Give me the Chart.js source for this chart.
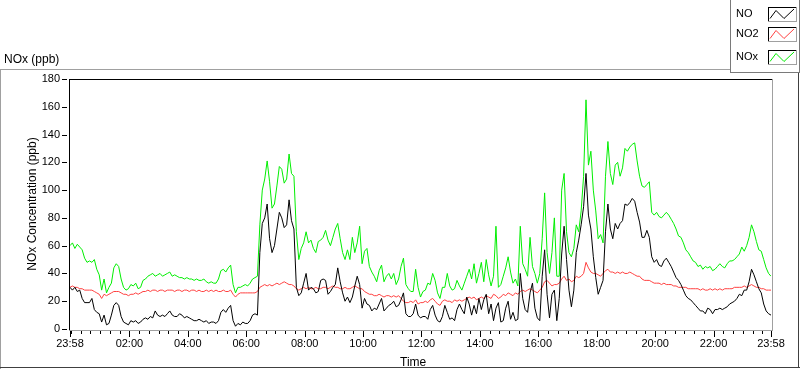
<!DOCTYPE html>
<html>
<head>
<meta charset="utf-8">
<title>NOx (ppb)</title>
<script src="https://cdn.jsdelivr.net/npm/chart.js@4.4.1/dist/chart.umd.min.js"></script>
<style>
  html, body { margin: 0; padding: 0; background: #ffffff; overflow: hidden; }
  canvas { display: block; }
</style>
</head>
<body>
<canvas id="grafico" width="800" height="369"></canvas>
<script>
// minutos desde las 23:58, una muestra cada 5 minutos
const pasoMinutos = 5
const tickMinutes = [0, 122, 242, 362, 482, 602, 722, 842, 962, 1082, 1202, 1322, 1440]
const tickLabels = ['23:58', '02:00', '04:00', '06:00', '08:00', '10:00', '12:00', '14:00', '16:00', '18:00', '20:00', '22:00', '23:58']
const yTickStep = 20

const noValues = [
  30,28,30,27,28,22,19,19,19,22,14,12,11,
  5,10,3,4,10,17,19,17,9,5,4,3,6,5,6,4,5,7,
  8,7,9,8,13,10,9,10,9,11,13,10,9,9,11,10,8,9,
  8,7,6,6,7,6,5,6,4,5,5,4,6,12,14,12,15,17,6,2,4,3,5,4,
  4,6,10,11,10,55,76,80,90,65,
  55,60,72,84,80,73,75,93,78,72,
  30,24,26,33,40,28,30,29,26,27,
  35,36,35,25,27,30,32,44,34,26,
  20,23,19,23,31,38,32,15,22,18,
  17,13,15,14,18,22,13,15,17,18,
  20,16,17,21,26,11,9,9,11,18,
  10,8,
  9,9,7,14,17,10,6,5,9,17,
  12,7,8,6,14,18,14,11,23,18,
  10,17,11,22,14,21,25,11,18,6,
  15,19,5,6,15,20,7,12,6,7,
  40,22,14,12,26,33,15,8,6,38,
  57,25,8,25,28,6,22,54,74,50,
  28,16,28,55,64,75,88,112,82,72,
  52,37,25,30,
  35,70,90,72,65,76,72,76,78,90,
  89,91,94,92,84,77,66,66,71,66,
  52,48,50,46,45,49,51,48,45,41,
  37,35,32,28,24,22,21,19,17,15,
  13,13,11,15,14,11,14,14,15,14,
  15,16,18,19,20,22,25,24,28,28,
  34,43,39,34,29,26,18,13,11,10
]

const no2Values = [
  30,31,30,30,29,29,28,28,28,28,27,26,25,
  22,25,24,25,26,27,27,27,26,25,25,24,25,25,26,25,26,27,
  27,28,27,28,28,27,28,28,27,28,28,28,27,28,28,27,28,28,
  27,28,28,27,28,27,27,28,27,28,27,28,27,27,28,27,27,28,25,23,25,26,26,26,
  26,26,26,26,27,30,31,32,31,32,
  31,32,33,32,33,34,33,32,32,31,
  29,28,29,30,29,30,29,29,30,29,
  29,30,30,29,30,31,30,30,29,29,
  30,29,29,30,31,30,29,29,27,26,
  25,25,24,24,25,24,23,24,24,23,
  24,23,24,22,20,19,19,20,19,21,
  18,19,
  19,20,19,21,22,20,18,17,20,21,
  20,20,19,21,20,21,20,21,22,23,
  22,23,21,22,23,22,24,23,22,25,
  24,22,23,25,24,26,25,24,26,25,
  27,28,27,28,29,28,27,26,28,30,
  34,35,33,31,32,32,33,36,38,35,
  36,34,35,38,37,38,40,48,44,41,
  40,40,39,38,
  40,42,43,41,41,40,41,40,41,40,
  40,41,40,39,38,38,36,35,35,35,
  34,33,33,33,32,33,32,32,32,31,
  31,30,30,30,30,29,29,29,29,29,
  28,29,28,28,29,28,29,28,29,28,
  29,29,29,29,30,30,30,30,31,30,
  31,32,31,30,30,29,29,28,28,28
]

const noxValues = [
  60,62,58,61,59,57,
  51,48,49,48,50,43,39,
  28,36,26,30,33,
  44,47,45,36,30,28,29,32,31,33,29,30,35,
  36,38,39,40,38,39,40,38,39,40,41,38,39,
  38,37,37,36,37,36,36,35,36,35,35,36,34,33,34,33,33,
  36,42,43,41,44,46,32,26,30,30,31,32,
  31,33,36,37,38,75,100,108,121,106,
  87,90,103,117,115,105,108,126,112,110,
  70,50,58,62,70,62,64,58,55,63,
  64,66,71,64,60,66,72,76,65,55,
  50,57,50,66,55,62,74,47,56,58,
  45,41,38,34,42,46,34,38,40,36,
  40,32,36,45,51,32,29,27,27,43,
  30,23,
  27,28,33,32,40,35,26,22,30,30,
  40,31,28,29,35,31,28,33,38,43,
  36,47,33,40,48,34,50,39,31,38,
  74,30,32,38,44,52,41,33,36,31,
  74,47,43,38,66,45,40,33,40,65,
  98,55,40,55,80,38,38,100,112,70,
  55,52,58,75,70,85,110,165,118,128,
  100,85,65,68,
  62,110,135,112,104,118,120,110,116,130,
  128,131,133,134,121,110,103,102,104,106,
  84,82,84,81,80,82,84,82,79,76,
  72,67,66,62,57,55,52,49,48,45,
  46,43,45,44,45,42,43,45,47,45,
  44,47,49,49,50,52,54,59,56,60,
  66,75,70,63,57,56,50,44,40,38
]

const fuente = '"Liberation Sans", Arial, sans-serif'

function aPuntos(valores) {
  return valores.map((v, i) => ({ x: i * pasoMinutos, y: v }))
}

// marco, marcas de los ejes, titulos y leyenda al estilo del grafico original
const marcoPlugin = {
  id: 'marco',
  afterDraw(chart) {
    const c = chart.ctx
    const xs = chart.scales.x
    const ys = chart.scales.y
    const a = chart.chartArea
    c.save()

    // marco exterior
    c.fillStyle = '#a0a0a0'
    c.fillRect(0, 69, 730, 1)
    c.fillRect(0, 69, 1, 300)
    c.fillStyle = '#404040'
    c.fillRect(0, 367, 800, 1)
    c.fillRect(798, 72, 1, 296)

    // borde del area de trazado
    const izq = Math.round(a.left) - 1
    const der = Math.round(a.right) + 1
    const arr = Math.round(a.top)
    const abj = Math.round(a.bottom) + 1
    c.fillStyle = '#000000'
    c.fillRect(izq, arr, der - izq, 1)
    c.fillRect(izq, arr, 1, abj - arr)
    c.fillStyle = '#a0a0a0'
    c.fillRect(izq, abj, der - izq + 1, 1)
    c.fillRect(der, arr, 1, abj - arr)

    // marcas eje x: mayores en las etiquetas, menores cada 20 minutos
    c.fillStyle = '#000000'
    tickMinutes.forEach(t => {
      const px = Math.round(xs.getPixelForValue(t))
      c.fillRect(px, abj + 1, 1, 6)
    })
    for (let m = 0; m < 1440; m += 20) {
      const t = m + 2
      if (tickMinutes.includes(t)) continue
      const px = Math.round(xs.getPixelForValue(t))
      c.fillRect(px, abj + 1, 1, 3)
    }

    // marcas eje y
    ys.ticks.forEach(tk => {
      const py = Math.round(ys.getPixelForValue(tk.value))
      c.fillRect(izq - 7, py, 5, 1)
    })

    // titulos
    c.fillStyle = '#000000'
    c.font = '12px ' + fuente
    c.textAlign = 'left'
    c.textBaseline = 'alphabetic'
    c.fillText('NOx (ppb)', 4, 63)
    c.fillText('Time', 400, 366)

    c.save()
    c.translate(33, (a.top + a.bottom) / 2)
    c.rotate(-Math.PI / 2)
    c.textAlign = 'center'
    c.textBaseline = 'middle'
    c.fillText('NOx Concentration (ppb)', 0, 0)
    c.restore()

    // leyenda
    c.fillStyle = '#ffffff'
    c.fillRect(730, 0, 70, 73)
    c.fillStyle = '#7a7a7a'
    c.fillRect(730, 0, 1, 73)
    c.fillRect(730, 72, 70, 1)
    c.fillRect(799, 0, 1, 73)

    const filas = [7, 27, 50]
    const centros = [14, 34, 57]
    chart.data.datasets.forEach((ds, i) => {
      const y0 = filas[i]
      c.fillStyle = '#000000'
      c.font = '11px ' + fuente
      c.textAlign = 'left'
      c.textBaseline = 'middle'
      c.fillText(ds.label, 736, centros[i])

      c.fillStyle = '#000000'
      c.fillRect(768, y0, 28, 1)
      c.fillRect(768, y0, 1, 14)
      c.fillStyle = '#a0a0a0'
      c.fillRect(768, y0 + 14, 29, 1)
      c.fillRect(796, y0, 1, 14)

      c.strokeStyle = ds.borderColor
      c.lineWidth = 1
      c.beginPath()
      c.moveTo(770, y0 + 11.5)
      c.lineTo(776, y0 + 3.5)
      c.lineTo(784, y0 + 11.5)
      c.lineTo(794, y0 + 2)
      c.stroke()
    })

    c.restore()
  }
}

const ctx = document.getElementById('grafico')

new Chart(ctx, {
  type: 'line',
  data: {
    datasets: [
      { label: 'NO', data: aPuntos(noValues), borderColor: '#000000', borderWidth: 1, pointRadius: 0, tension: 0 },
      { label: 'NO2', data: aPuntos(no2Values), borderColor: '#ff4040', borderWidth: 1, pointRadius: 0, tension: 0 },
      { label: 'NOx', data: aPuntos(noxValues), borderColor: '#00ee00', borderWidth: 1, pointRadius: 0, tension: 0 }
    ]
  },
  options: {
    responsive: false,
    animation: false,
    events: [],
    layout: { padding: { top: 79, right: 29, left: 0, bottom: 0 } },
    plugins: {
      legend: { display: false },
      tooltip: { enabled: false }
    },
    scales: {
      x: {
        type: 'linear',
        min: 0,
        max: 1440,
        afterBuildTicks: scale => {
          scale.ticks = tickMinutes.map(v => ({ value: v }))
        },
        afterFit: scale => { scale.height = 40 },
        grid: { display: false, drawTicks: false },
        border: { display: false },
        ticks: {
          autoSkip: false,
          maxRotation: 0,
          padding: 8,
          color: '#000000',
          font: { family: fuente, size: 11 },
          callback: (v, i) => tickLabels[i]
        }
      },
      y: {
        min: 0,
        max: 180,
        afterFit: scale => { scale.width = 70 },
        grid: { display: false, drawTicks: false },
        border: { display: false },
        ticks: {
          stepSize: yTickStep,
          padding: 10,
          color: '#000000',
          font: { family: fuente, size: 11 }
        }
      }
    }
  },
  plugins: [marcoPlugin]
})
</script>
</body>
</html>
